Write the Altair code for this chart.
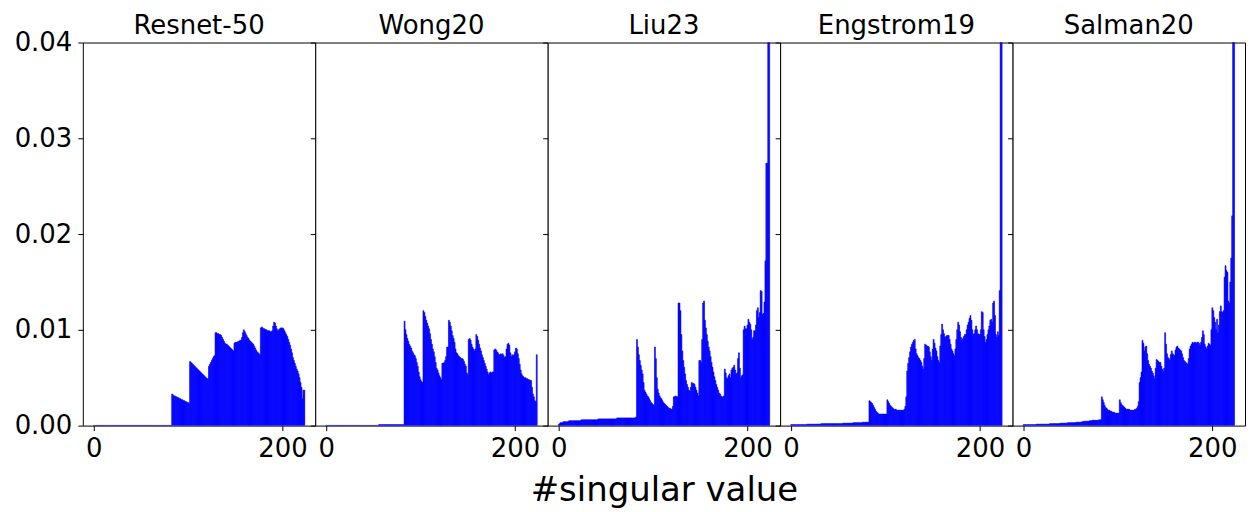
import altair as alt
import pandas as pd

# values in units of 1e-4
names = ["Resnet-50", "Wong20", "Liu23", "Engstrom19", "Salman20"]

resnet50 = [
    0.2, 0.2, 0.2, 0.2, 0.2, 0.2, 0.2, 0.2, 0.2, 0.2,
    0.2, 0.2, 0.2, 0.2, 0.2, 0.2, 0.2, 0.2, 0.2, 0.2,
    0.2, 0.2, 0.2, 0.2, 0.2, 0.2, 0.2, 0.2, 0.2, 0.2,
    0.2, 0.2, 0.2, 0.2, 0.2, 0.2, 0.2, 0.2, 0.2, 0.2,
    0.2, 0.2, 0.2, 0.2, 0.2, 0.2, 0.2, 0.2, 0.2, 0.2,
    0.2, 0.2, 0.2, 0.2, 0.2, 0.2, 0.2, 0.2, 0.2, 0.2,
    0.2, 0.2, 0.2, 0.2, 0.2, 0.2, 0.2, 0.2, 0.2, 0.2,
    0.2, 0.2, 0.2, 0.2, 0.2, 0.2, 0.2, 0.2, 0.2, 0.2,
    0.2, 0.2, 0.2,
    33, 32, 31, 31, 30, 30, 29, 29, 28, 28, 27, 27, 26, 26, 25, 25, 24, 24, 23,
    67, 66, 65, 64, 63, 62, 61, 60, 59, 58, 57, 56, 55, 54, 53, 52, 51, 50, 49, 49,
    62, 64, 66, 68, 70, 72, 73,
    97, 97, 96, 96, 95, 95, 94, 92, 90, 88, 86, 85, 85, 84, 83, 82, 81, 80, 79, 78,
    86, 87, 87, 87, 88, 88, 89, 89, 92, 97, 100, 98, 96, 94, 92, 91, 89, 88, 87, 86,
    85, 83, 81, 79, 77, 76, 75, 74,
    102, 103, 102, 101, 101, 100, 100, 99, 99, 99, 98, 98, 99, 104, 108, 107, 104, 101,
    99, 100, 101, 102, 102, 102, 101, 99, 97, 95, 93,
    90, 87, 84, 80, 76, 71, 68, 65, 62, 59, 57, 54, 50, 45, 40, 28, 37, 37,
]

wong20 = [
    0.2, 0.2, 0.2, 0.2, 0.2, 0.2, 0.2, 0.2, 0.2, 0.2,
    0.2, 0.2, 0.2, 0.2, 0.2, 0.2, 0.2, 0.2, 0.2, 0.2,
    0.2, 0.2, 0.2, 0.2, 0.2, 0.2, 0.2, 0.2, 0.2, 0.2,
    0.2, 0.2, 0.2, 0.2, 0.2, 0.2, 0.2, 0.2, 0.2, 0.2,
    0.2, 0.2, 0.2, 0.2, 0.2, 0.2, 0.2, 0.2, 0.2, 0.2,
    0.2, 0.2, 0.2, 0.2, 0.2, 0.2,
    1, 1, 1, 1, 1, 1, 1, 1, 1, 1, 1, 1, 1, 1, 1, 1, 1, 1, 1, 1,
    1, 1, 1, 1, 1, 1, 1,
    109, 100, 95, 91, 88, 85, 83, 81, 78, 76, 74, 73, 70, 66, 62, 56, 51, 48, 46, 45,
    120, 118, 114, 110, 107, 104, 101, 96, 90, 85, 80, 77, 72, 66, 60, 58, 55, 52, 50, 48,
    65, 65, 66, 68, 72, 82, 82, 110, 108, 104, 99, 94, 91, 87, 80, 76, 75, 73, 72, 71,
    70, 70, 69, 67, 64, 62, 55, 53,
    90, 91, 89, 85, 82, 80, 78, 80, 95, 93, 89, 85, 81, 78, 74, 71, 68, 65, 62, 59,
    56, 53, 55, 56, 55, 56, 56,
    79, 80, 79, 77, 76, 74, 74, 75, 74, 75, 73, 71, 72, 80, 85, 86, 84, 76, 72, 74,
    73, 74, 77, 81,
    80, 75, 70, 64, 58, 54, 52, 51, 50, 50, 49, 49, 48, 48, 47, 47, 40, 33, 30, 26,
    25, 74,
]

liu23 = [
    1, 2, 3, 3, 3, 4, 4, 4, 4, 4,
    4, 5, 5, 5, 5, 5, 5, 5, 5, 5,
    5, 5, 5, 5, 6, 6, 6, 6, 6, 6,
    6, 6, 6, 6, 6, 6, 6, 6, 6, 6,
    6, 6, 7, 7, 7, 7, 7, 7, 7, 7,
    7, 7, 7, 7, 7, 7, 7, 7, 7, 7,
    7, 7, 8, 8, 8, 8, 8, 8, 8, 8,
    8, 8, 8, 8, 8, 8, 8, 8, 8, 8,
    8, 8, 9,
    90, 82, 74, 68, 63, 58, 54, 45, 37, 35, 33, 31, 30, 28, 26, 24, 23, 22, 21,
    82, 70, 50, 38, 34, 31, 29, 28, 26, 24, 23, 22, 21, 20, 19, 18, 18, 17, 17, 20,
    30, 30, 31, 30, 30,
    128, 128, 120, 95, 78, 68, 61, 54, 47, 43, 40, 37, 36, 40, 45, 44, 44, 43, 40, 37,
    34, 31,
    68, 68, 66, 90, 128, 130, 110, 102, 95, 88, 82, 78, 72, 66, 61, 56, 51, 47, 43, 40,
    37, 34, 33, 31, 30, 30, 31,
    59, 55, 50, 49, 52, 54, 50, 58, 60, 61, 63, 58, 54, 55, 70, 76, 60, 50, 52, 53,
    100, 104, 101, 101, 105, 111, 108, 106, 100, 90, 92, 99, 99, 105, 120, 123, 113, 118,
    141, 140, 116, 117, 129, 172, 274, 274, 600, 600,
]

engstrom19 = [
    1, 1, 1, 1, 1, 1, 1, 1, 1, 1,
    1, 1, 1, 1, 1, 1, 1, 1.5, 1.5, 1.5,
    1.5, 1.5, 1.5, 1.5, 1.5, 1.5, 1.5, 1.5, 1.5, 1.5,
    1.5, 1.5, 2, 2, 2, 2, 2, 2, 2, 2,
    2, 2, 2, 2, 2, 2, 2, 2, 2, 2,
    2, 2, 2, 2, 2, 2.5, 2.5, 2.5, 2.5, 2.5,
    2.5, 2.5, 2.5, 2.5, 2.5, 2.5, 3, 3, 3, 3,
    3, 3, 3, 3, 3, 3, 3.5, 3.5, 3.5, 3.5,
    3.5, 3.5, 3.5,
    26, 25, 24, 23, 21, 19, 17, 15, 14, 13, 12, 12, 12, 12, 12, 12, 12, 12, 12,
    27, 25, 23, 21, 20, 19, 18, 17, 17, 17, 16, 16, 16, 16, 16, 16, 16, 16, 17, 20, 30,
    57, 65, 71, 77, 82, 85, 87, 89, 90, 80, 75, 73, 71, 70, 68, 66, 62, 59, 70, 85,
    84, 83, 83, 82, 77, 72, 68,
    80, 90, 86, 81, 78, 72, 68, 66, 83, 95, 106, 100, 96, 92, 93, 94, 94, 94, 90, 85,
    80, 78, 75, 73, 80, 90, 100,
    108, 105, 98, 92, 89, 91, 93, 95, 95, 100, 105, 108, 112, 115, 110, 100, 95, 96, 100, 104,
    100, 96, 95, 95,
    100, 119, 118, 100, 93, 87, 90, 95, 100, 104, 110, 111, 108, 128, 130, 115, 95, 92, 98, 94,
    141, 600, 600,
]

salman20 = [
    1, 1, 1, 1, 1, 1, 1, 1, 1, 1,
    1, 1, 1, 1, 1.5, 1.5, 1.5, 1.5, 1.5, 1.5,
    1.5, 1.5, 1.5, 1.5, 1.5, 1.5, 1.5, 1.5, 2, 2,
    2, 2, 2, 2, 2, 2, 2, 2, 2, 2.5,
    2.5, 2.5, 2.5, 2.5, 2.5, 2.5, 2.5, 3, 3, 3,
    3, 3, 3, 3, 3, 3, 3.5, 3.5, 3.5, 3.5,
    3.5, 3.5, 4, 4, 4.5, 4.5, 4.5, 4.5, 4.5, 4.5,
    5, 5, 5, 5.5, 5.5, 5.5, 5.5, 5.5, 5.5, 5.5,
    6, 6, 6,
    30, 27, 24, 21, 19, 18, 17, 16, 16, 15, 15, 14, 14, 14, 13, 13, 13, 13, 13,
    27, 24, 22, 21, 20, 19, 18, 17, 17, 17, 17, 16, 16, 16, 16, 16, 17, 17, 18, 20, 25,
    45, 50, 56, 89, 86, 78, 82, 83, 75, 68, 64, 62, 60, 57, 55, 52, 49, 60, 69, 68,
    67, 66, 66, 62, 59, 57, 60,
    97, 85, 75, 71, 70, 68, 74, 78, 75, 74, 73, 79, 82, 83, 81, 80, 79, 78, 75, 71,
    68, 67, 66, 65, 64,
    70, 80, 83, 85, 87, 86, 87, 87, 86, 87, 87, 86, 84, 87, 92, 99, 95, 85, 82, 80,
    83, 86, 85, 84,
    100, 123, 120, 113, 108, 100, 111, 97, 105, 119, 125, 119, 118, 120, 155, 167, 162, 160, 130, 128,
    150, 175, 219, 600, 600,
]

series = [resnet50, wong20, liu23, engstrom19, salman20]
x_ticks = [0, 200]
y_ticks = [0.0, 0.01, 0.02, 0.03, 0.04]

FONT = "DejaVu Sans"


def panel(name, vals, idx):
    df = pd.DataFrame({"i": list(range(len(vals))), "v": [v / 10000 for v in vals]})
    first = idx == 0
    mid = idx == 2
    xaxis_kwargs = dict(
        values=x_ticks, labelFontSize=26, labelFont=FONT, labelColor="black",
        tickSize=5, tickColor="black", labelPadding=5, domain=False, grid=False,
        labelFlush=False,
    )
    if mid:
        xaxis_kwargs.update(title="#singular value", titleFontSize=34, titleFont=FONT,
                            titleFontWeight="normal", titleColor="black", titlePadding=12)
    else:
        xaxis_kwargs.update(title=None)
    yaxis_kwargs = dict(
        values=y_ticks, format=".2f", labels=first, labelFontSize=26, labelFont=FONT,
        labelColor="black", tickSize=5, tickColor="black", labelPadding=6,
        domain=False, grid=False, title=None,
    )
    return (
        alt.Chart(df)
        .transform_calculate(x0="datum.i - 0.5", x1="datum.i + 0.5", zero="0")
        .mark_bar(color="#0000ff", stroke="#0000ff", strokeWidth=0.6, clip=True,
                  orient="vertical")
        .encode(
            x=alt.X("x0:Q",
                    scale=alt.Scale(domain=[-11.6, 234.6], nice=False, zero=False, padding=0),
                    axis=alt.Axis(**xaxis_kwargs)),
            x2="x1:Q",
            y=alt.Y("v:Q", scale=alt.Scale(domain=[0, 0.04], nice=False, padding=0),
                    axis=alt.Axis(**yaxis_kwargs)),
            y2="zero:Q",
        )
        .properties(
            width=233, height=384,
            view=alt.ViewBackground(stroke="black", strokeWidth=1, fill="white"),
            title=alt.TitleParams(name, fontSize=26, font=FONT, fontWeight="normal",
                                  color="black", anchor="middle",
                                  offset=-9 if first else 3, frame="group"),
        )
    )


chart = (
    alt.hconcat(*[panel(n, s, k) for k, (n, s) in enumerate(zip(names, series))],
                spacing=0, bounds="flush")
    .properties(padding={"left": 5, "top": 3, "right": 0, "bottom": 0})
    .configure_view(stroke="black", strokeWidth=1, fill="white")
    .configure(background="white")
)

chart.save("out.html", embed_options={"renderer": "svg", "actions": False})
